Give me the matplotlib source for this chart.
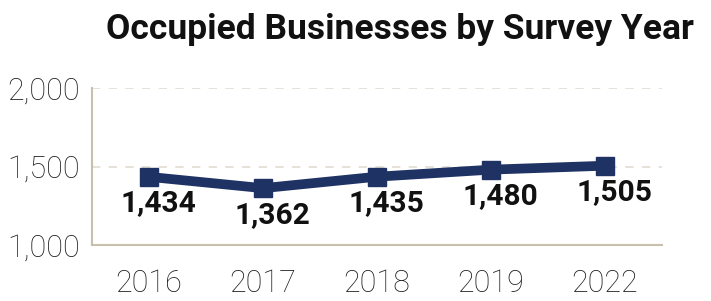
import matplotlib
matplotlib.use("Agg")
import matplotlib.pyplot as plt
from matplotlib.ticker import FuncFormatter

years = ["2016", "2017", "2018", "2019", "2022"]
businesses = [1434, 1362, 1435, 1480, 1505]
y_ticks = [1000, 1500, 2000]

navy = "#1f3264"
beige = "#c9bfad"

fig = plt.figure(figsize=(7.11, 3.01), dpi=100)
ax = fig.add_axes([92 / 711, 56 / 301, 570 / 711, 157 / 301])

x = range(len(years))
ax.plot(x, businesses, color=navy, lw=7, marker="s", ms=13, zorder=3)

for xi, v in zip(x, businesses):
    ax.annotate(f"{v:,}", (xi, v), xytext=(7, -9), textcoords="offset points",
                ha="center", va="top", fontsize=21.5, fontweight="bold",
                family="Roboto", color="#111111")

ax.set_xlim(-0.5, len(years) - 0.5)
ax.set_ylim(1000, 2000)
ax.set_yticks(y_ticks)
ax.yaxis.set_major_formatter(FuncFormatter(lambda v, p: f"{int(v):,}"))
ax.set_xticks(list(x))
ax.set_xticklabels(years)

for lab in ax.get_xticklabels() + ax.get_yticklabels():
    lab.set_family("Roboto")
    lab.set_fontweight("light")
    lab.set_fontsize(22)
    lab.set_color("#1e1e1e")

ax.tick_params(axis="x", length=0, pad=17)
ax.tick_params(axis="y", length=0, pad=9)
ax.grid(axis="y", color="#e2ddd2", ls=(0, (5, 5)), lw=1.2)
ax.set_axisbelow(True)
for s in ["top", "right"]:
    ax.spines[s].set_visible(False)
for s in ["left", "bottom"]:
    ax.spines[s].set_color(beige)
    ax.spines[s].set_linewidth(1.5)

fig.text(400 / 711, 1 - 30 / 301, "Occupied Businesses by Survey Year", ha="center",
         va="center", fontsize=25.5, fontweight="bold", family="Roboto", color="#111111")

fig.savefig("out.png", dpi=100)
